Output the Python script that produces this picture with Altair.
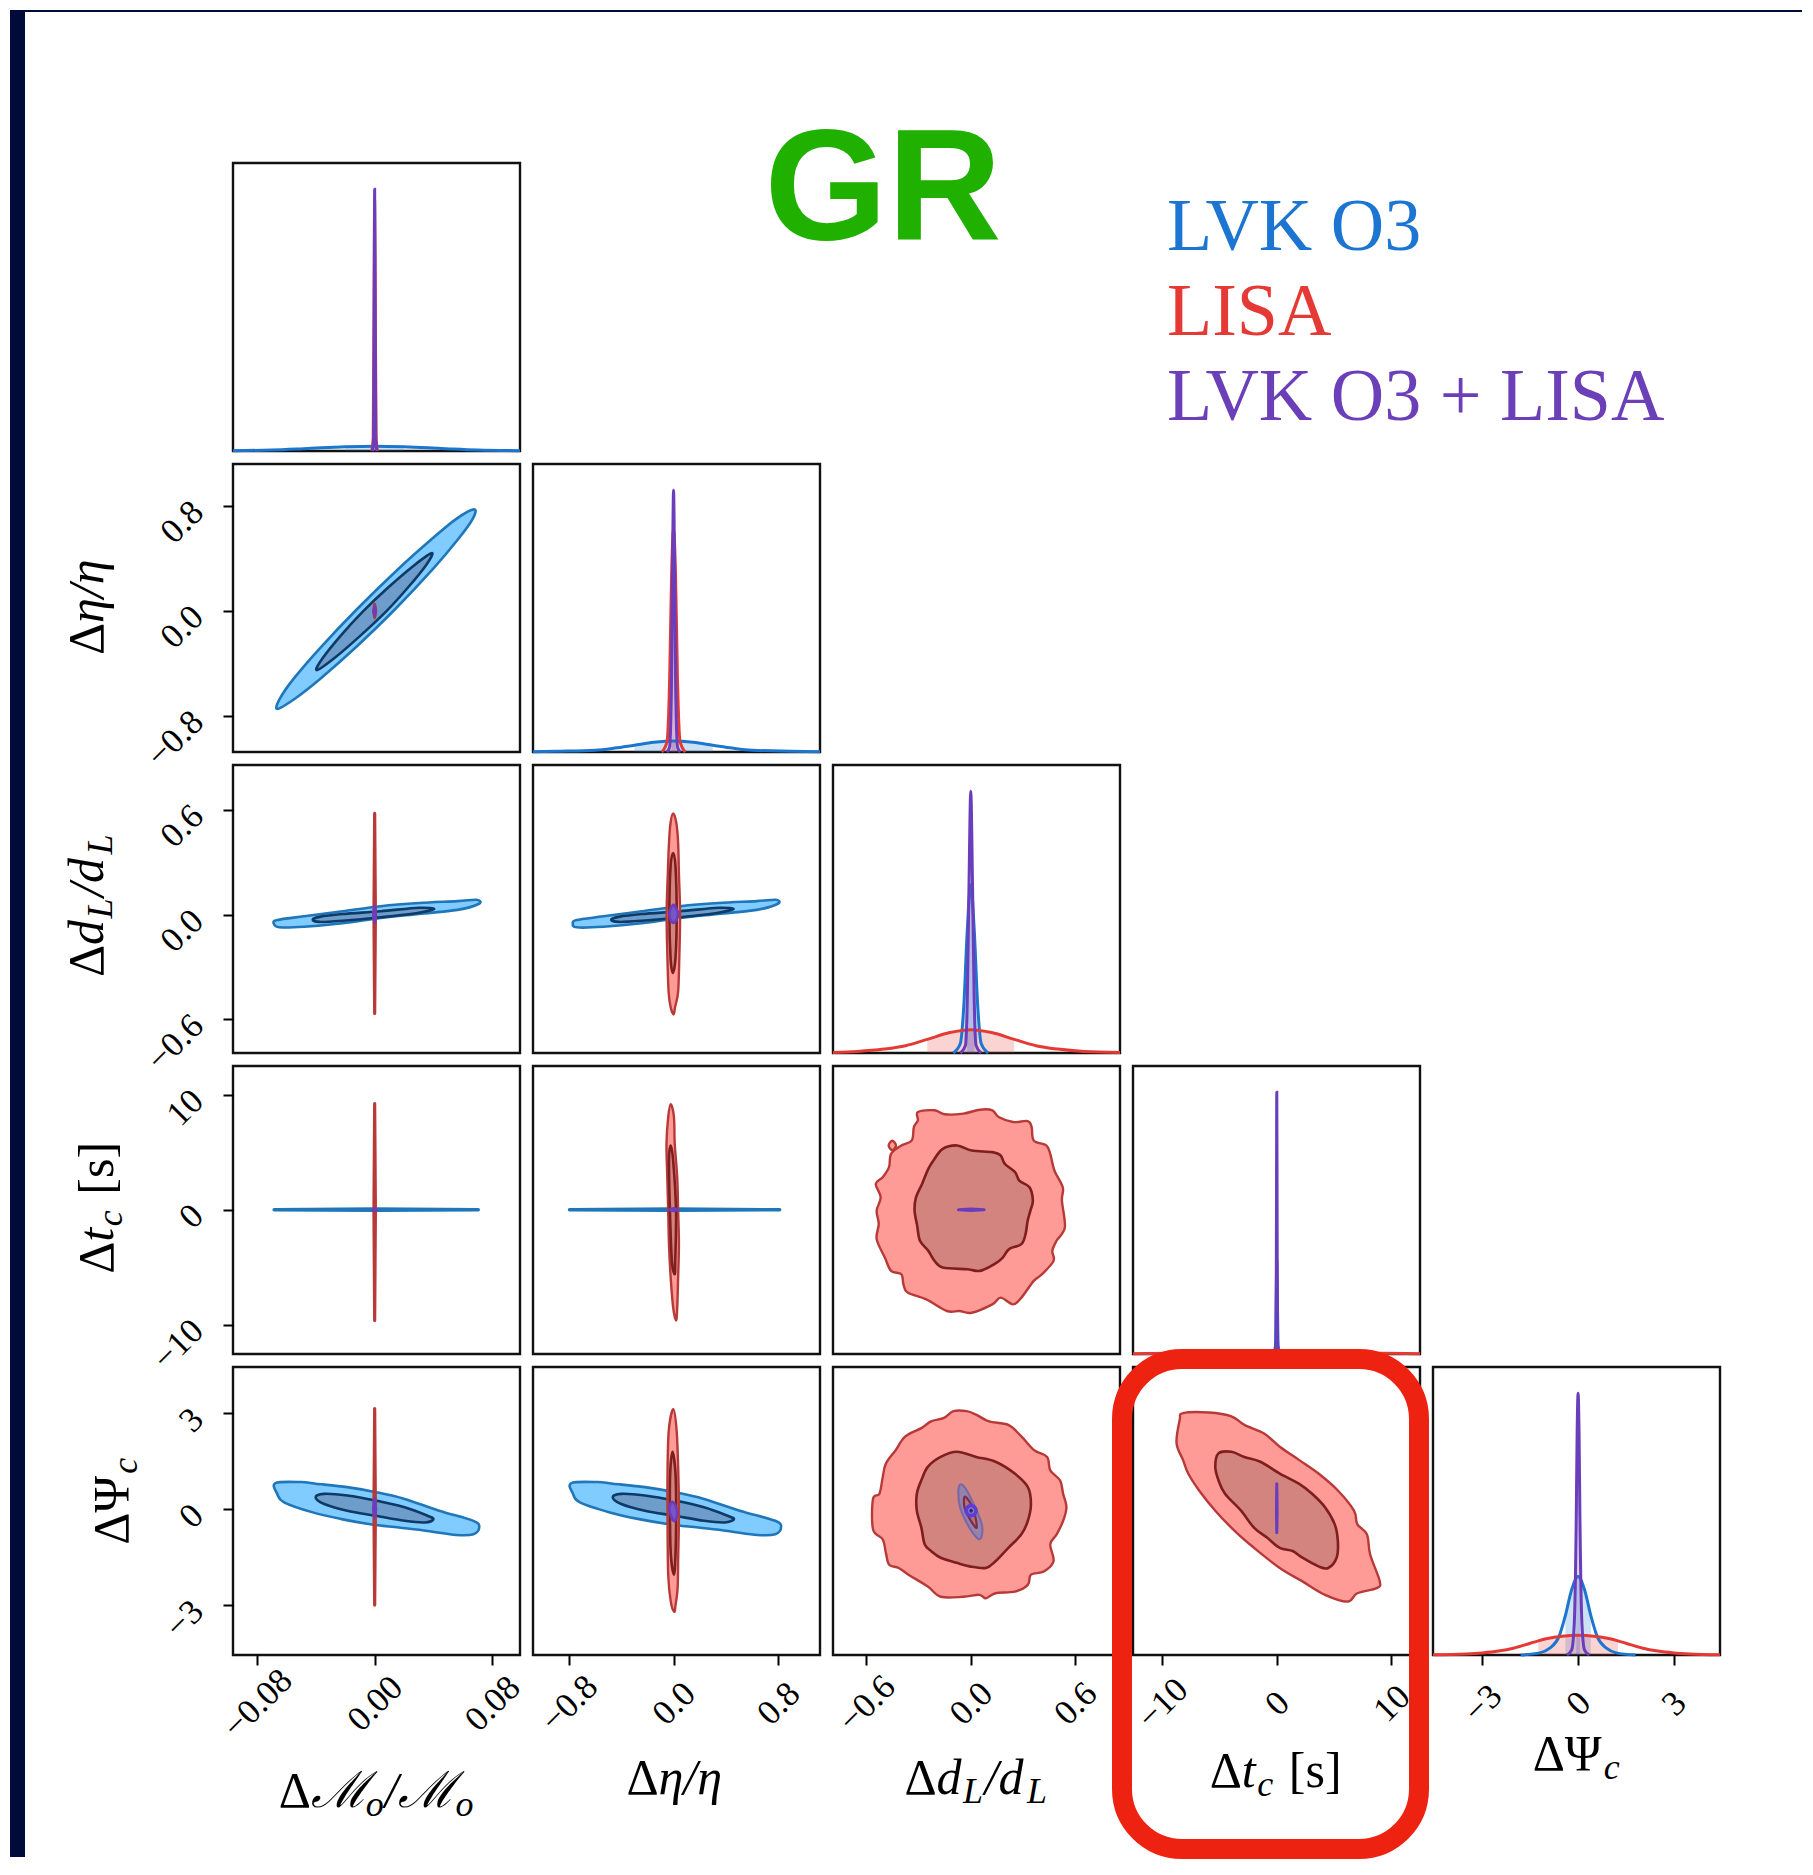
import altair as alt
import pandas as pd

W, H, SP = 287, 288, 13

# ---------------- parameters / axes ----------------
PARAMS = ["mc", "eta", "dl", "tc", "psi"]
domain_lo = {"mc": -0.0965, "eta": -1.075, "dl": -0.792, "tc": -12.55, "psi": -4.55}
domain_hi = {"mc": 0.099, "eta": 1.12, "dl": 0.858, "tc": 12.5, "psi": 4.45}
tick_values = {
    "mc": [-0.08, 0.0, 0.08],
    "eta": [-0.8, 0.0, 0.8],
    "dl": [-0.6, 0.0, 0.6],
    "tc": [-10, 0, 10],
    "psi": [-3, 0, 3],
}
tick_formats = {"mc": ".2f", "eta": ".1f", "dl": ".1f", "tc": "d", "psi": "d"}

legend_labels = ["LVK O3", "LISA", "LVK O3 + LISA"]
title_text = "GR"

# ---------------- 2D credible contours (data units) ----------------
# row Δη/η, col ΔM/M
lvk_mc_eta_o_x = [-0.0663, -0.0646, -0.0553, -0.0378, -0.0121, 0.0159, 0.0387, 0.0554, 0.0678, 0.0667, 0.0568, 0.0396, 0.0139, -0.0141, -0.0372, -0.0544]
lvk_mc_eta_o_y = [-0.746, -0.669, -0.518, -0.290, 0.013, 0.318, 0.546, 0.700, 0.774, 0.700, 0.546, 0.318, 0.013, -0.290, -0.518, -0.669]
lvk_mc_eta_i_x = [-0.0395, -0.0355, -0.0228, -0.0081, 0.0088, 0.0272, 0.0390, 0.0351, 0.0224, 0.0077, -0.0093, -0.0276]
lvk_mc_eta_i_y = [-0.451, -0.361, -0.184, -0.005, 0.175, 0.351, 0.441, 0.351, 0.175, -0.005, -0.184, -0.361]
lisa_mc_eta_x = [0.0, 0.0007, 0.0, -0.0007]
lisa_mc_eta_y = [0.05, 0.0, -0.05, 0.0]
comb_mc_eta_x = [0.0, 0.0004, 0.0, -0.0004]
comb_mc_eta_y = [0.035, 0.0, -0.035, 0.0]

# row Δd/d, col ΔM/M
lvk_mc_dl_o_x = [-0.0688, -0.0662, -0.0480, -0.0219, 0.0041, 0.0302, 0.0563, 0.0693, 0.0711, 0.0563, 0.0302, 0.0041, -0.0219, -0.0480, -0.0649]
lvk_mc_dl_o_y = [-0.049, -0.030, -0.009, 0.020, 0.049, 0.067, 0.078, 0.086, 0.063, 0.028, 0.005, -0.018, -0.049, -0.069, -0.072]
lvk_mc_dl_i_x = [-0.0422, -0.0376, -0.0219, 0.0041, 0.0302, 0.0406, 0.0302, 0.0041, -0.0219, -0.0376]
lvk_mc_dl_i_y = [-0.028, -0.012, 0.004, 0.020, 0.040, 0.033, 0.012, -0.014, -0.034, -0.041]
lisa_mc_dl_x = [0.0, 0.0005, 0.0, -0.0005]
lisa_mc_dl_y = [0.581, 0.0, -0.565, 0.0]
comb_mc_dl_x = [0.0, 0.0007, 0.0, -0.0007]
comb_mc_dl_y = [0.05, 0.0, -0.045, 0.0]

# row Δd/d, col Δη/η
lvk_eta_dl_o_x = [-0.770, -0.741, -0.536, -0.243, 0.050, 0.343, 0.636, 0.782, 0.797, 0.636, 0.343, 0.050, -0.243, -0.536, -0.741]
lvk_eta_dl_o_y = [-0.049, -0.030, -0.009, 0.020, 0.049, 0.067, 0.078, 0.086, 0.063, 0.028, 0.005, -0.018, -0.049, -0.069, -0.072]
lvk_eta_dl_i_x = [-0.477, -0.419, -0.243, 0.050, 0.343, 0.460, 0.343, 0.050, -0.243, -0.419]
lvk_eta_dl_i_y = [-0.028, -0.012, 0.004, 0.020, 0.040, 0.033, 0.012, -0.014, -0.034, -0.041]
lisa_eta_dl_o_x = [-0.003, 0.021, 0.035, 0.041, 0.050, 0.044, 0.035, 0.012, 0.000, -0.023, -0.038, -0.047, -0.053, -0.044, -0.035, -0.023]
lisa_eta_dl_o_y = [0.581, 0.527, 0.411, 0.237, 0.005, -0.246, -0.440, -0.527, -0.571, -0.527, -0.440, -0.246, 0.005, 0.237, 0.411, 0.527]
lisa_eta_dl_i_x = [-0.003, 0.015, 0.024, 0.015, -0.006, -0.023, -0.032, -0.023]
lisa_eta_dl_i_y = [0.353, 0.276, 0.005, -0.246, -0.333, -0.246, 0.005, 0.276]
comb_eta_dl_x = [0.0, 0.025, 0.035, 0.025, 0.0, -0.025, -0.032, -0.025]
comb_eta_dl_y = [0.057, 0.030, 0.005, -0.025, -0.047, -0.025, 0.005, 0.030]

# row Δt_c, col ΔM/M
lvk_mc_tc_x = [-0.0685, 0.0, 0.0706, 0.0]
lvk_mc_tc_y = [0.0, 0.06, 0.0, -0.06]
lisa_mc_tc_x = [0.0, 0.0005, 0.0, -0.0005]
lisa_mc_tc_y = [9.23, 0.0, -9.63, 0.0]
comb_mc_tc_x = [-0.0012, 0.0, 0.0012, 0.0]
comb_mc_tc_y = [0.0, 0.08, 0.0, -0.08]

# row Δt_c, col Δη/η
lvk_eta_tc_x = [-0.796, 0.0, 0.812, 0.0]
lvk_eta_tc_y = [0.0, 0.06, 0.0, -0.06]
lisa_eta_tc_o_x = [-0.022, 0.003, 0.009, 0.028, 0.035, 0.041, 0.035, 0.028, 0.019, -0.003, -0.022, -0.035, -0.041, -0.048, -0.054, -0.041]
lisa_eta_tc_o_y = [9.17, 8.06, 5.74, 2.83, -0.08, -2.99, -5.90, -8.52, -9.63, -8.52, -5.90, -2.99, -0.08, 2.83, 5.74, 8.06]
lisa_eta_tc_i_x = [-0.022, -0.003, 0.019, 0.013, 0.009, -0.013, -0.028, -0.035]
lisa_eta_tc_i_y = [5.59, 4.28, -0.08, -4.45, -5.61, -4.45, -0.08, 4.28]
comb_eta_tc_x = [-0.03, 0.0, 0.03, 0.0]
comb_eta_tc_y = [0.0, 0.1, 0.0, -0.1]

# row Δt_c, col Δd/d
lisa_dl_tc_o_x = [-0.304, -0.208, -0.149, -0.042, 0.053, 0.124, 0.160, 0.243, 0.327, 0.350, 0.362, 0.434, 0.457, 0.481, 0.529, 0.524, 0.541, 0.493, 0.469, 0.476, 0.410, 0.362, 0.291, 0.243, 0.172, 0.124, 0.005, -0.066, -0.137, -0.256, -0.363, -0.387, -0.399, -0.458, -0.494, -0.541, -0.529, -0.541, -0.518, -0.546, -0.506, -0.470, -0.458, -0.399, -0.339, -0.327, -0.304]
lisa_dl_tc_o_y = [8.50, 8.65, 8.30, 8.36, 8.70, 8.65, 8.06, 7.63, 7.71, 7.19, 6.03, 5.59, 4.86, 3.41, 1.95, 0.79, -1.54, -2.70, -3.58, -4.45, -5.61, -6.19, -7.65, -8.23, -7.65, -8.23, -8.96, -8.81, -8.81, -7.80, -7.21, -6.49, -5.61, -5.32, -4.16, -2.56, -1.25, -0.08, 1.08, 2.24, 2.83, 3.70, 4.86, 5.59, 6.03, 7.19, 7.77]
lisa_dl_tc_i_x = [-0.161, -0.078, 0.005, 0.124, 0.172, 0.196, 0.255, 0.279, 0.338, 0.357, 0.343, 0.327, 0.315, 0.291, 0.220, 0.184, 0.136, 0.053, -0.018, -0.161, -0.208, -0.244, -0.292, -0.308, -0.323, -0.315, -0.280, -0.244, -0.208]
lisa_dl_tc_i_y = [5.30, 5.59, 5.15, 5.01, 4.72, 3.99, 3.26, 2.53, 1.95, 0.79, -0.08, -0.96, -2.12, -2.99, -3.43, -4.16, -4.74, -5.32, -5.18, -5.03, -4.45, -3.58, -2.70, -1.39, -0.08, 1.08, 2.24, 3.55, 4.43]
lisa_dl_tc_isl_x = [-0.451, -0.430, -0.451, -0.472]
lisa_dl_tc_isl_y = [6.00, 5.59, 5.18, 5.59]
comb_dl_tc_x = [-0.071, 0.0, 0.077, 0.0]
comb_dl_tc_y = [0.0, 0.06, 0.0, -0.06]

# row ΔΨ_c, col ΔM/M
lvk_mc_psi_o_x = [-0.0676, -0.0500, -0.0402, -0.0187, 0.0008, 0.0204, 0.0439, 0.0673, 0.0712, 0.0673, 0.0556, 0.0360, 0.0165, -0.0031, -0.0226, -0.0422, -0.0617, -0.0664]
lvk_mc_psi_o_y = [0.823, 0.854, 0.802, 0.696, 0.539, 0.328, -0.040, -0.357, -0.567, -0.778, -0.799, -0.673, -0.567, -0.462, -0.304, -0.093, 0.222, 0.486]
lvk_mc_psi_i_x = [-0.0402, -0.0344, -0.0187, 0.0008, 0.0204, 0.0360, 0.0400, 0.0341, 0.0204, 0.0008, -0.0187, -0.0344]
lvk_mc_psi_i_y = [0.380, 0.486, 0.433, 0.275, 0.064, -0.199, -0.304, -0.409, -0.357, -0.199, -0.040, 0.170]
lisa_mc_psi_x = [0.0, 0.0005, 0.0, -0.0005]
lisa_mc_psi_y = [3.15, 0.0, -2.99, 0.0]
comb_mc_psi_x = [0.0, 0.0008, 0.0, -0.0008]
comb_mc_psi_y = [0.33, 0.0, -0.25, 0.0]

# row ΔΨ_c, col Δη/η
lvk_eta_psi_o_x = [-0.782, -0.580, -0.465, -0.219, 0.009, 0.233, 0.506, 0.778, 0.822, 0.778, 0.642, 0.413, 0.189, -0.035, -0.263, -0.487, -0.716, -0.769]
lvk_eta_psi_o_y = [0.823, 0.854, 0.802, 0.696, 0.539, 0.328, -0.040, -0.357, -0.567, -0.778, -0.799, -0.673, -0.567, -0.462, -0.304, -0.093, 0.222, 0.486]
lvk_eta_psi_i_x = [-0.465, -0.400, -0.219, 0.009, 0.233, 0.413, 0.462, 0.391, 0.233, 0.009, -0.219, -0.400]
lvk_eta_psi_i_y = [0.380, 0.486, 0.433, 0.275, 0.064, -0.199, -0.304, -0.409, -0.357, -0.199, -0.040, 0.170]
lisa_eta_psi_o_x = [-0.002, 0.023, 0.036, 0.041, 0.036, 0.031, 0.015, 0.005, -0.021, -0.041, -0.046, -0.046, -0.036]
lisa_eta_psi_o_y = [3.13, 2.49, 1.22, -0.15, -1.41, -2.46, -2.99, -3.20, -2.89, -2.04, -0.36, 1.22, 2.49]
lisa_eta_psi_i_x = [-0.008, 0.015, 0.020, 0.015, 0.003, -0.021, -0.028, -0.026]
lisa_eta_psi_i_y = [1.80, 1.12, -0.15, -1.41, -2.04, -1.41, -0.15, 1.12]
comb_eta_psi_x = [-0.010, 0.015, 0.028, 0.018, 0.0, -0.020, -0.033, -0.025]
comb_eta_psi_y = [0.24, 0.12, -0.10, -0.30, -0.36, -0.20, 0.0, 0.17]

# row ΔΨ_c, col Δd/d
lisa_dl_psi_o_x = [-0.024, 0.031, 0.105, 0.216, 0.291, 0.365, 0.439, 0.457, 0.513, 0.531, 0.550, 0.531, 0.494, 0.457, 0.476, 0.420, 0.346, 0.328, 0.253, 0.142, 0.087, 0.050, -0.043, -0.173, -0.247, -0.358, -0.414, -0.469, -0.488, -0.506, -0.562, -0.562, -0.525, -0.506, -0.488, -0.432, -0.376, -0.284, -0.228, -0.154, -0.099]
lisa_dl_psi_o_y = [3.07, 2.96, 2.75, 2.64, 2.28, 1.85, 1.64, 1.22, 0.91, 0.49, 0.07, -0.36, -0.78, -1.09, -1.62, -1.94, -2.04, -2.36, -2.57, -2.62, -2.78, -2.67, -2.73, -2.73, -2.41, -2.04, -1.83, -1.73, -1.36, -0.94, -0.62, 0.33, 0.49, 1.01, 1.43, 1.85, 2.28, 2.54, 2.75, 2.86, 3.07]
lisa_dl_psi_i_x = [-0.080, 0.031, 0.142, 0.253, 0.328, 0.346, 0.328, 0.291, 0.216, 0.142, 0.087, -0.006, -0.080, -0.173, -0.228, -0.265, -0.284, -0.310, -0.310, -0.284, -0.247, -0.173]
lisa_dl_psi_i_y = [1.80, 1.64, 1.49, 1.12, 0.70, 0.17, -0.36, -0.78, -1.20, -1.62, -1.83, -1.78, -1.67, -1.51, -1.30, -1.09, -0.57, -0.04, 0.49, 0.91, 1.33, 1.64]
comb_dl_psi_o_x = [-0.056, -0.023, 0.025, 0.063, 0.063, 0.040, -0.013, -0.061, -0.071]
comb_dl_psi_o_y = [0.78, 0.59, 0.06, -0.46, -0.83, -0.91, -0.52, 0.06, 0.59]
comb_dl_psi_i_x = [-0.033, 0.015, 0.034, -0.004, -0.036]
comb_dl_psi_i_y = [0.40, 0.01, -0.57, -0.31, 0.06]
comb_dl_psi_r_x = [0.002, 0.022, 0.031, 0.022, 0.002, -0.018, -0.027, -0.018]
comb_dl_psi_r_y = [0.12, 0.07, -0.04, -0.15, -0.20, -0.15, -0.04, 0.07]
comb_dl_psi_d_x = [0.002, 0.008, 0.002, -0.004]
comb_dl_psi_d_y = [0.0, -0.04, -0.08, -0.04]

# row ΔΨ_c, col Δt_c
lisa_tc_psi_o_x = [-8.18, -5.93, -3.96, -2.83, -1.14, 0.26, 1.96, 3.64, 5.33, 6.74, 7.02, 7.87, 8.15, 8.99, 8.71, 7.02, 6.18, 4.21, 2.24, 0.26, -1.99, -3.68, -5.37, -6.78, -7.73, -8.18, -8.75, -8.47]
lisa_tc_psi_o_y = [3.01, 3.03, 2.91, 2.64, 2.38, 1.96, 1.54, 1.12, 0.59, -0.04, -0.46, -0.78, -1.41, -2.25, -2.46, -2.62, -2.88, -2.67, -2.25, -1.83, -1.20, -0.67, -0.04, 0.59, 1.12, 1.54, 2.07, 2.80]
lisa_tc_psi_i_x = [-5.09, -3.96, -2.83, -1.43, 0.26, 1.96, 3.08, 4.21, 5.05, 5.33, 5.22, 4.49, 3.64, 2.24, 1.39, 0.26, -0.86, -1.99, -3.12, -4.52, -5.09, -5.37]
lisa_tc_psi_i_y = [1.75, 1.80, 1.64, 1.49, 1.12, 0.80, 0.49, 0.07, -0.46, -0.99, -1.51, -1.83, -1.78, -1.51, -1.30, -1.20, -0.88, -0.57, -0.04, 0.49, 0.91, 1.33]
comb_tc_psi_x = [0.0, 0.03, 0.0, -0.03]
comb_tc_psi_y = [0.80, 0.0, -0.73, 0.0]

# ---------------- 1D marginal densities (peak of combined = 1) ----------------
lvk_mc_pdf_x = [-0.0965, -0.07, -0.045, -0.02, 0.0, 0.02, 0.045, 0.07, 0.099]
lvk_mc_pdf_y = [0.001, 0.004, 0.010, 0.016, 0.018, 0.016, 0.010, 0.004, 0.001]
lisa_mc_pdf_x = [-0.002, -0.001, -0.0004, 0.0, 0.0004, 0.001, 0.002]
lisa_mc_pdf_y = [0.0, 0.05, 0.6, 0.95, 0.6, 0.05, 0.0]
comb_mc_pdf_x = [-0.0015, -0.0007, -0.0003, 0.0, 0.0003, 0.0007, 0.0015]
comb_mc_pdf_y = [0.0, 0.05, 0.6, 1.0, 0.6, 0.05, 0.0]

lvk_eta_pdf_x = [-1.075, -0.9, -0.6, -0.45, -0.3, -0.15, 0.0, 0.15, 0.3, 0.45, 0.6, 0.9, 1.12]
lvk_eta_pdf_y = [0.001, 0.003, 0.007, 0.015, 0.026, 0.037, 0.042, 0.037, 0.026, 0.015, 0.007, 0.003, 0.001]
lisa_eta_pdf_x = [-0.09, -0.05, -0.03, -0.015, 0.0, 0.015, 0.03, 0.05, 0.09]
lisa_eta_pdf_y = [0.0, 0.04, 0.28, 0.68, 0.85, 0.68, 0.28, 0.04, 0.0]
comb_eta_pdf_x = [-0.05, -0.03, -0.015, -0.007, 0.0, 0.007, 0.015, 0.03, 0.05]
comb_eta_pdf_y = [0.0, 0.02, 0.3, 0.75, 1.0, 0.75, 0.3, 0.02, 0.0]

lvk_dl_pdf_x = [-0.1, -0.06, -0.04, -0.02, 0.0, 0.02, 0.04, 0.06, 0.1]
lvk_dl_pdf_y = [0.0, 0.036, 0.18, 0.47, 0.643, 0.47, 0.18, 0.036, 0.0]
lisa_dl_pdf_x = [-0.792, -0.65, -0.5, -0.375, -0.25, -0.12, 0.0, 0.12, 0.25, 0.375, 0.5, 0.65, 0.858]
lisa_dl_pdf_y = [0.002, 0.006, 0.015, 0.028, 0.052, 0.078, 0.089, 0.078, 0.052, 0.028, 0.015, 0.006, 0.002]
comb_dl_pdf_x = [-0.06, -0.03, -0.02, -0.01, 0.0, 0.01, 0.02, 0.03, 0.06]
comb_dl_pdf_y = [0.0, 0.03, 0.2, 0.65, 1.0, 0.65, 0.2, 0.03, 0.0]

lvk_tc_pdf_x = [-0.3, -0.12, -0.05, 0.0, 0.05, 0.12, 0.3]
lvk_tc_pdf_y = [0.0, 0.03, 0.22, 0.36, 0.22, 0.03, 0.0]
lisa_tc_pdf_x = [-12.55, -9.0, -6.0, -3.0, 0.0, 3.0, 6.0, 9.0, 12.5]
lisa_tc_pdf_y = [0.001, 0.003, 0.006, 0.009, 0.010, 0.009, 0.006, 0.003, 0.001]
comb_tc_pdf_x = [-0.15, -0.06, -0.025, 0.0, 0.025, 0.06, 0.15]
comb_tc_pdf_y = [0.0, 0.05, 0.6, 1.0, 0.6, 0.05, 0.0]

lvk_psi_pdf_x = [-1.8, -1.2, -0.9, -0.6, -0.4, -0.2, 0.0, 0.2, 0.4, 0.6, 0.9, 1.2, 1.8]
lvk_psi_pdf_y = [0.0, 0.008, 0.025, 0.07, 0.15, 0.25, 0.30, 0.25, 0.15, 0.07, 0.025, 0.008, 0.0]
lisa_psi_pdf_x = [-4.55, -3.5, -3.0, -2.5, -2.0, -1.5, -1.25, -1.0, -0.5, 0.0, 0.5, 1.0, 1.25, 1.5, 2.0, 2.5, 3.0, 3.5, 4.45]
lisa_psi_pdf_y = [0.001, 0.004, 0.008, 0.015, 0.027, 0.045, 0.054, 0.062, 0.072, 0.075, 0.072, 0.062, 0.054, 0.045, 0.027, 0.015, 0.008, 0.004, 0.001]
comb_psi_pdf_x = [-0.35, -0.2, -0.12, -0.06, -0.03, 0.0, 0.03, 0.06, 0.12, 0.2, 0.35]
comb_psi_pdf_y = [0.0, 0.02, 0.12, 0.5, 0.85, 1.0, 0.85, 0.5, 0.12, 0.02, 0.0]

# 1-sigma shaded bands (lo, hi) for each marginal
lvk_bands = {"mc": (-0.02, 0.02), "eta": (-0.3, 0.3), "dl": (-0.04, 0.04), "tc": (-0.05, 0.05), "psi": (-0.4, 0.4)}
lisa_bands = {"mc": (-0.0004, 0.0004), "eta": (-0.03, 0.03), "dl": (-0.25, 0.25), "tc": (-3.0, 3.0), "psi": (-1.25, 1.25)}
comb_bands = {"mc": (-0.0003, 0.0003), "eta": (-0.015, 0.015), "dl": (-0.02, 0.02), "tc": (-0.025, 0.025), "psi": (-0.06, 0.06)}

# ---------------- styles ----------------
C_LVK, C_LISA, C_COMB = "#1C76D0", "#E53935", "#6A3DBA"
LEGEND_COLORS = ["#1C75D1", "#E53935", "#6A3FB8"]
ST = {
    "lvk_o": {"fill": "#80CBFF", "stroke": "#1F77B9", "strokeWidth": 2.6},
    "lvk_i": {"fill": "#6F9DCB", "stroke": "#0D3A66", "strokeWidth": 2.6},
    "lvk_l": {"fill": "#1F77B9", "stroke": "#1F77B9", "strokeWidth": 3.4},
    "lisa_o": {"fill": "#FF9B97", "stroke": "#B83A38", "strokeWidth": 2.4},
    "lisa_i": {"fill": "#D4847F", "stroke": "#7F1E1E", "strokeWidth": 2.6},
    "lisa_l": {"fill": "#B83A38", "stroke": "#B83A38", "strokeWidth": 3.2},
    "comb_l": {"fill": "#6A3DBD", "stroke": "#6A3DBD", "strokeWidth": 3.0},
    "comb_e": {"fill": "#7A55C8", "stroke": "#6A3DBD", "strokeWidth": 2.6},
    "comb_o": {"fill": "#9484AC", "stroke": "#7A68A8", "strokeWidth": 2.2},
    "comb_i": {"fill": "#B07480", "stroke": "#7E2C4A", "strokeWidth": 2.2},
    "comb_r": {"fill": "#8B74C4", "stroke": "#5A3CD8", "strokeWidth": 3.5},
    "comb_d": {"fill": "#2E2466", "stroke": "#2E2466", "strokeWidth": 1.5},
}

CONTOURS = {
    (1, 0): [(lvk_mc_eta_o_x, lvk_mc_eta_o_y, "lvk_o", True), (lvk_mc_eta_i_x, lvk_mc_eta_i_y, "lvk_i", True),
             (lisa_mc_eta_x, lisa_mc_eta_y, "lisa_l", False), (comb_mc_eta_x, comb_mc_eta_y, "comb_l", False)],
    (2, 0): [(lvk_mc_dl_o_x, lvk_mc_dl_o_y, "lvk_o", True), (lvk_mc_dl_i_x, lvk_mc_dl_i_y, "lvk_i", True),
             (lisa_mc_dl_x, lisa_mc_dl_y, "lisa_l", False), (comb_mc_dl_x, comb_mc_dl_y, "comb_l", False)],
    (2, 1): [(lvk_eta_dl_o_x, lvk_eta_dl_o_y, "lvk_o", True), (lvk_eta_dl_i_x, lvk_eta_dl_i_y, "lvk_i", True),
             (lisa_eta_dl_o_x, lisa_eta_dl_o_y, "lisa_o", True), (lisa_eta_dl_i_x, lisa_eta_dl_i_y, "lisa_i", True),
             (comb_eta_dl_x, comb_eta_dl_y, "comb_e", True)],
    (3, 0): [(lvk_mc_tc_x, lvk_mc_tc_y, "lvk_l", False), (lisa_mc_tc_x, lisa_mc_tc_y, "lisa_l", False),
             (comb_mc_tc_x, comb_mc_tc_y, "comb_l", False)],
    (3, 1): [(lvk_eta_tc_x, lvk_eta_tc_y, "lvk_l", False), (lisa_eta_tc_o_x, lisa_eta_tc_o_y, "lisa_o", True),
             (lisa_eta_tc_i_x, lisa_eta_tc_i_y, "lisa_i", True), (comb_eta_tc_x, comb_eta_tc_y, "comb_l", False)],
    (3, 2): [(lisa_dl_tc_o_x, lisa_dl_tc_o_y, "lisa_o", True), (lisa_dl_tc_isl_x, lisa_dl_tc_isl_y, "lisa_o", True),
             (lisa_dl_tc_i_x, lisa_dl_tc_i_y, "lisa_i", True), (comb_dl_tc_x, comb_dl_tc_y, "comb_l", False)],
    (4, 0): [(lvk_mc_psi_o_x, lvk_mc_psi_o_y, "lvk_o", True), (lvk_mc_psi_i_x, lvk_mc_psi_i_y, "lvk_i", True),
             (lisa_mc_psi_x, lisa_mc_psi_y, "lisa_l", False), (comb_mc_psi_x, comb_mc_psi_y, "comb_l", False)],
    (4, 1): [(lvk_eta_psi_o_x, lvk_eta_psi_o_y, "lvk_o", True), (lvk_eta_psi_i_x, lvk_eta_psi_i_y, "lvk_i", True),
             (lisa_eta_psi_o_x, lisa_eta_psi_o_y, "lisa_o", True), (lisa_eta_psi_i_x, lisa_eta_psi_i_y, "lisa_i", True),
             (comb_eta_psi_x, comb_eta_psi_y, "comb_e", True)],
    (4, 2): [(lisa_dl_psi_o_x, lisa_dl_psi_o_y, "lisa_o", True), (lisa_dl_psi_i_x, lisa_dl_psi_i_y, "lisa_i", True),
             (comb_dl_psi_o_x, comb_dl_psi_o_y, "comb_o", True), (comb_dl_psi_i_x, comb_dl_psi_i_y, "comb_i", True),
             (comb_dl_psi_r_x, comb_dl_psi_r_y, "comb_r", True), (comb_dl_psi_d_x, comb_dl_psi_d_y, "comb_d", True)],
    (4, 3): [(lisa_tc_psi_o_x, lisa_tc_psi_o_y, "lisa_o", True), (lisa_tc_psi_i_x, lisa_tc_psi_i_y, "lisa_i", True),
             (comb_tc_psi_x, comb_tc_psi_y, "comb_l", False)],
}

PDFS = {
    "mc": [(lvk_mc_pdf_x, lvk_mc_pdf_y), (lisa_mc_pdf_x, lisa_mc_pdf_y), (comb_mc_pdf_x, comb_mc_pdf_y)],
    "eta": [(lvk_eta_pdf_x, lvk_eta_pdf_y), (lisa_eta_pdf_x, lisa_eta_pdf_y), (comb_eta_pdf_x, comb_eta_pdf_y)],
    "dl": [(lvk_dl_pdf_x, lvk_dl_pdf_y), (lisa_dl_pdf_x, lisa_dl_pdf_y), (comb_dl_pdf_x, comb_dl_pdf_y)],
    "tc": [(lvk_tc_pdf_x, lvk_tc_pdf_y), (lisa_tc_pdf_x, lisa_tc_pdf_y), (comb_tc_pdf_x, comb_tc_pdf_y)],
    "psi": [(lvk_psi_pdf_x, lvk_psi_pdf_y), (lisa_psi_pdf_x, lisa_psi_pdf_y), (comb_psi_pdf_x, comb_psi_pdf_y)],
}

# ---------------- axis titles (math-like, with subscripts) ----------------
# (text, fontStyle, is_subscript, gap_before_in_em)
TITLE_SEGMENTS = {
    "mc": [("Δ", "normal", False, 0), ("ℳ", "italic", False, 0), ("o", "italic", True, 0), ("/ℳ", "italic", False, 0), ("o", "italic", True, 0)],
    "eta": [("Δ", "normal", False, 0), ("η/η", "italic", False, 0)],
    "dl": [("Δ", "normal", False, 0), ("d", "italic", False, 0), ("L", "italic", True, 0), ("/d", "italic", False, 0), ("L", "italic", True, 0)],
    "tc": [("Δ", "normal", False, 0), ("t", "italic", False, 0), ("c", "italic", True, 0), ("[s]", "normal", False, 0.30)],
    "psi": [("Δ", "normal", False, 0), ("Ψ", "normal", False, 0), ("c", "italic", True, 0)],
}
SERIF = "Liberation Serif"
MAIN_SIZE, SUB_SIZE, SUB_SHIFT = 50, 36, 9
CHAR_W = {"Δ": 0.64, "Ψ": 0.78, "η": 0.52, "/": 0.32, "d": 0.53, "L": 0.60, "t": 0.31,
          "c": 0.46, "o": 0.52, "ℳ": 1.10, "[": 0.34, "s": 0.41, "]": 0.34}
# x-title baseline (local px below panel top of bottom row); y-title baseline (local px left of col 0)
X_TITLE_BASE = {"mc": 440, "eta": 427, "dl": 427, "tc": 420, "psi": 403}
Y_TITLE_BASE = {"eta": -130, "dl": -130, "tc": -120, "psi": -105}
Y_TITLE_CENTER = {"eta": 141, "dl": 140, "tc": 141, "psi": 134}

dummy = pd.DataFrame({"a": [0]})


def sc(k):
    return alt.Scale(domain=[domain_lo[k], domain_hi[k]], nice=False, zero=False)


def axis_for(k, orient):
    common = dict(values=tick_values[k], format=tick_formats[k], labelAngle=315, labelBaseline="middle",
                  tickSize=10, tickWidth=2, tickColor="#000000", domain=False, grid=False,
                  labelFont=SERIF, labelFontSize=35, labelColor="#000000", title=None,
                  labelFlush=False, labelOverlap=False)
    if orient == "x":
        return alt.Axis(labelAlign="center", labelPadding=38, **common)
    return alt.Axis(labelAlign="right", labelPadding=26, **common)


def xenc(k, show):
    return alt.X("x:Q", scale=sc(k), axis=axis_for(k, "x") if show else None)


def yenc(k, show):
    return alt.Y("y:Q", scale=sc(k), axis=axis_for(k, "y") if show else None)


def text_layer(txt, x, y, size, color, font=SERIF, style="normal", weight="normal", align="left", angle=0):
    kw = dict(font=font, fontSize=size, fontStyle=style, fontWeight=weight, color=color,
              align=align, baseline="alphabetic")
    if angle:
        kw["angle"] = angle
    return alt.Chart(pd.DataFrame({"t": [txt]})).mark_text(**kw).encode(
        x=alt.value(x), y=alt.value(y), text="t:N")


def seg_w(text, sub, gap):
    size = SUB_SIZE if sub else MAIN_SIZE
    return (sum(CHAR_W.get(ch, 0.5) for ch in text) + gap) * size


def title_layers(k, vertical):
    segs = TITLE_SEGMENTS[k]
    total = sum(seg_w(t, s, g) for t, _, s, g in segs)
    pos = -total / 2
    out = []
    for t, style, sub, gap in segs:
        size = SUB_SIZE if sub else MAIN_SIZE
        pos += gap * size
        if vertical:
            x = Y_TITLE_BASE[k] + (SUB_SHIFT if sub else 0)
            y = Y_TITLE_CENTER[k] - pos
            out.append(text_layer(t, x, y, size, "#000000", style=style, angle=270))
        else:
            x = W / 2 + pos
            y = X_TITLE_BASE[k] + (SUB_SHIFT if sub else 0)
            out.append(text_layer(t, x, y, size, "#000000", style=style))
        pos += seg_w(t, sub, 0)
    return out


def contour_panel(r, c):
    xk, yk = PARAMS[c], PARAMS[r]
    layers = []
    for xs, ys, st, smooth in CONTOURS[(r, c)]:
        df = pd.DataFrame({"x": xs, "y": ys, "i": list(range(len(xs)))})
        layers.append(
            alt.Chart(df).mark_line(interpolate="cardinal-closed" if smooth else "linear-closed",
                                    strokeJoin="round", **ST[st]).encode(
                x=xenc(xk, r == 4), y=yenc(yk, c == 0), order="i:Q"))
    return layers


def diag_panel(k, show_x):
    ysc = alt.Scale(domain=[0, 1.1], nice=False, zero=False)
    colors = [C_LVK, C_LISA, C_COMB]
    bands = [lvk_bands[k], lisa_bands[k], comb_bands[k]]
    areas, lines = [], []
    for (xs, ys), col, (lo, hi) in zip(PDFS[k], colors, bands):
        df = pd.DataFrame({"x": xs, "y": ys})
        areas.append(alt.Chart(df).transform_filter(f"datum.x >= {lo} && datum.x <= {hi}")
                     .mark_area(color=col, opacity=0.22, interpolate="monotone")
                     .encode(x=xenc(k, show_x), y=alt.Y("y:Q", scale=ysc, axis=None)))
        lines.append(alt.Chart(df).mark_line(color=col, strokeWidth=3, interpolate="monotone")
                     .encode(x=xenc(k, show_x), y=alt.Y("y:Q", scale=ysc, axis=None)))
    return areas + lines


cells = []
for r in range(5):
    for c in range(5):
        if c > r:
            cells.append(alt.Chart(dummy).mark_point(opacity=0).encode(x=alt.value(0), y=alt.value(0))
                         .properties(width=W, height=H, view=alt.ViewBackground(strokeOpacity=0)))
            continue
        if c == r:
            layers = diag_panel(PARAMS[r], r == 4)
        else:
            layers = contour_panel(r, c)
        if r == 4:
            layers += title_layers(PARAMS[c], vertical=False)
        if c == 0 and r > 0:
            layers += title_layers(PARAMS[r], vertical=True)
        if r == 0 and c == 0:
            # dark frame of the slide, big title and colour legend
            layers.append(alt.Chart(dummy).mark_rect(color="#000B3A").encode(
                x=alt.value(-223), x2=alt.value(-208), y=alt.value(-153), y2=alt.value(1694)))
            layers.append(alt.Chart(dummy).mark_rect(color="#000B3A").encode(
                x=alt.value(-223), x2=alt.value(1569), y=alt.value(-153), y2=alt.value(-151)))
            layers.append(text_layer(title_text, 650, 76, 158, "#20B000", font="Liberation Sans",
                                     weight="bold", align="center"))
            for j, (lab, col) in enumerate(zip(legend_labels, LEGEND_COLORS)):
                layers.append(text_layer(lab, 934, 87 + 85 * j, 74, col))
        if r == 4 and c == 3:
            layers.append(alt.Chart(dummy).mark_rect(fillOpacity=0, stroke="#EE2211", strokeWidth=20,
                                                     cornerRadius=60).encode(
                x=alt.value(-11), x2=alt.value(286), y=alt.value(-8), y2=alt.value(482)))
        cells.append(alt.layer(*layers).properties(width=W, height=H))

chart = alt.concat(*cells, columns=5, spacing=SP, bounds="flush", padding=0).properties(
    background="white").configure_view(stroke="#111111", strokeWidth=2.4)

chart.save("out.html", embed_options={"renderer": "svg", "actions": False})
